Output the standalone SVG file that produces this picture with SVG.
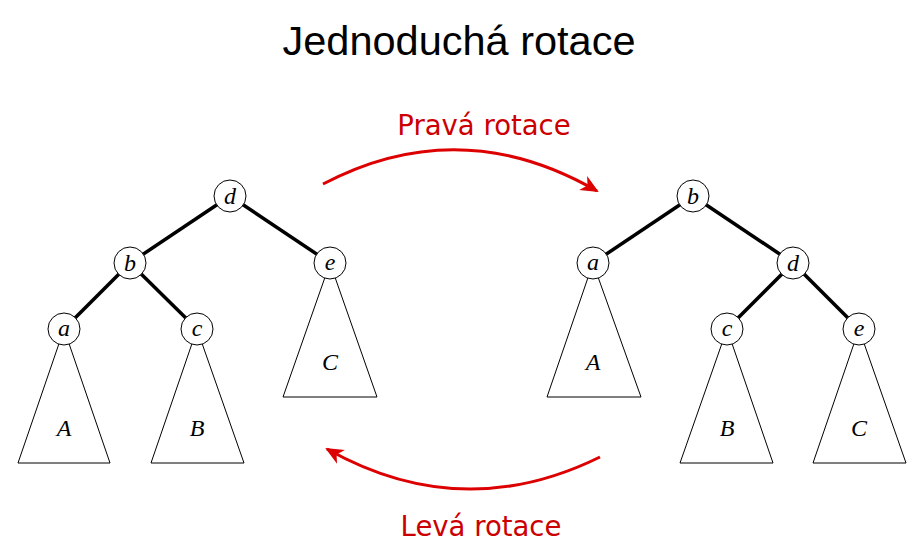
<svg xmlns="http://www.w3.org/2000/svg" width="922" height="557" viewBox="0 0 922 557">
<style>
.edge{stroke:#000;stroke-width:3.5;fill:none}
.tri{fill:#fff;stroke:#000;stroke-width:1}
.node circle{fill:#fff;stroke:#000;stroke-width:1}
.lbl{font-family:"Liberation Serif",serif;font-style:italic;font-size:24px;text-anchor:middle;fill:#000}
.red{font-family:"DejaVu Sans",sans-serif;font-size:27.5px;fill:#cc0000;text-anchor:middle}
.arc{stroke:#dd0000;stroke-width:3;fill:none}
</style>
<defs>
<marker id="ah" markerUnits="userSpaceOnUse" markerWidth="24" markerHeight="20" viewBox="-20 -10 24 20" refX="0" refY="0" orient="auto">
<path d="M2,0 L-16,-8 L-11,0 L-16,8 Z" fill="#dd0000"/>
</marker>
</defs>
<text x="459" y="55" font-family="Liberation Sans, Arial, sans-serif" font-size="41.5" text-anchor="middle" fill="#000">Jednoduchá rotace</text>
<text class="red" x="484" y="135">Pravá rotace</text>
<text class="red" x="481" y="536">Levá rotace</text>
<g id="connectors">
<line class="edge" x1="230" y1="196" x2="130" y2="263"/>
<line class="edge" x1="230" y1="196" x2="330" y2="263"/>
<line class="edge" x1="130" y1="263" x2="64" y2="329"/>
<line class="edge" x1="130" y1="263" x2="197" y2="329"/>
<line class="edge" x1="693" y1="196" x2="593" y2="263"/>
<line class="edge" x1="693" y1="196" x2="793" y2="263"/>
<line class="edge" x1="793" y1="263" x2="727" y2="329"/>
<line class="edge" x1="793" y1="263" x2="859" y2="329"/>
<path class="arc" d="M323,184 Q460,112 597,191" marker-end="url(#ah)"/>
<path class="arc" d="M600,457 Q462,525 327,449" marker-end="url(#ah)"/>
</g>
<g id="subtrees">
<g id="tA1"><polygon class="tri" points="64,329 18,463 110,463"/><text class="lbl" x="64" y="436">A</text></g>
<g id="tB1"><polygon class="tri" points="197,329 151,463 244,463"/><text class="lbl" x="197" y="436">B</text></g>
<g id="tC1"><polygon class="tri" points="330,263 283,397 377,397"/><text class="lbl" x="330" y="370">C</text></g>
<g id="tA2"><polygon class="tri" points="593,263 547,397 641,397"/><text class="lbl" x="593" y="370">A</text></g>
<g id="tB2"><polygon class="tri" points="727,329 680,463 773,463"/><text class="lbl" x="727" y="436">B</text></g>
<g id="tC2"><polygon class="tri" points="859,329 813,463 906,463"/><text class="lbl" x="859" y="436">C</text></g>
</g>
<g id="n_d1" class="node"><circle cx="230" cy="196" r="16"/><text class="lbl" x="230" y="204">d</text></g>
<g id="n_b1" class="node"><circle cx="130" cy="263" r="16"/><text class="lbl" x="130" y="271">b</text></g>
<g id="n_e1" class="node"><circle cx="330" cy="263" r="16"/><text class="lbl" x="330" y="270">e</text></g>
<g id="n_a1" class="node"><circle cx="64" cy="329" r="16"/><text class="lbl" x="64" y="336">a</text></g>
<g id="n_c1" class="node"><circle cx="197" cy="329" r="16"/><text class="lbl" x="197" y="336">c</text></g>
<g id="n_b2" class="node"><circle cx="693" cy="196" r="16"/><text class="lbl" x="693" y="204">b</text></g>
<g id="n_a2" class="node"><circle cx="593" cy="263" r="16"/><text class="lbl" x="593" y="270">a</text></g>
<g id="n_d2" class="node"><circle cx="793" cy="263" r="16"/><text class="lbl" x="793" y="271">d</text></g>
<g id="n_c2" class="node"><circle cx="727" cy="329" r="16"/><text class="lbl" x="727" y="336">c</text></g>
<g id="n_e2" class="node"><circle cx="859" cy="329" r="16"/><text class="lbl" x="859" y="336">e</text></g>
</svg>
